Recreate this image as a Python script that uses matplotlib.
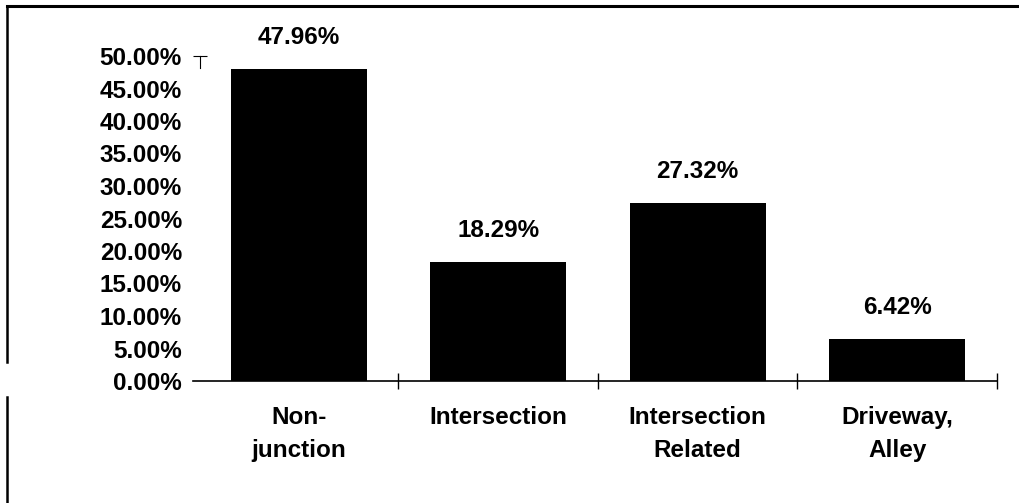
import matplotlib.pyplot as plt
from matplotlib.lines import Line2D

# Data
categories = ['Non-\njunction', 'Intersection', 'Intersection\nRelated', 'Driveway,\nAlley']
shares = [47.96, 18.29, 27.32, 6.42]
y_ticks = [0, 5, 10, 15, 20, 25, 30, 35, 40, 45, 50]

plt.rcParams['font.family'] = ['Liberation Sans', 'DejaVu Sans']
plt.rcParams['font.weight'] = 'bold'

fig = plt.figure(figsize=(10.19, 5.03), dpi=100)
ax = fig.add_axes([193 / 1019, 1 - 381 / 503, 804 / 1019, (381 - 56) / 503])

x = list(range(len(categories)))
ax.bar(x, shares, width=0.68, color='black')

# Labels above bars
for xi, v in zip(x, shares):
    ax.annotate(f'{v:.2f}%', (xi, v), xytext=(0, 23), textcoords='offset points',
                ha='center', va='center', fontsize=17.5, fontweight='bold')

ax.set_xlim(-0.53, 3.5)
ax.set_ylim(0, 50)

# Axes styling
for side in ['top', 'right']:
    ax.spines[side].set_visible(False)
ax.spines['left'].set_bounds(48.1, 50)
ax.spines['left'].set_position(('data', -0.495))
ax.spines['left'].set_linewidth(0.8)
ax.spines['bottom'].set_linewidth(1.2)

ax.set_yticks(y_ticks)
ax.set_yticklabels([f'{t:.2f}%' for t in y_ticks], fontsize=17.5, fontweight='bold')
ax.tick_params(axis='y', which='major', length=10, width=0.8, direction='inout', pad=8)
# only the top tick mark is visible in the reference
for tk in ax.yaxis.get_major_ticks()[:-1]:
    tk.tick1line.set_visible(False)

ax.set_xticks(x)
ax.set_xticklabels(categories, fontsize=17.5, fontweight='bold', linespacing=1.55)
ax.set_xticks([0.5, 1.5, 2.5, 3.5], minor=True)
ax.tick_params(axis='x', which='major', length=0, pad=18)
ax.tick_params(axis='x', which='minor', length=12, width=1, direction='inout')

# Frame lines around the figure (scanned border)
fig.add_artist(Line2D([7 / 1019, 1.0], [1 - 6 / 503, 1 - 6 / 503], color='black', lw=2.2))
fig.add_artist(Line2D([7 / 1019, 7 / 1019], [1 - 6 / 503, 1 - 362 / 503], color='black', lw=1.8))
fig.add_artist(Line2D([7 / 1019, 7 / 1019], [1 - 397 / 503, 0], color='black', lw=1.8))

fig.savefig('out.png', dpi=100)
